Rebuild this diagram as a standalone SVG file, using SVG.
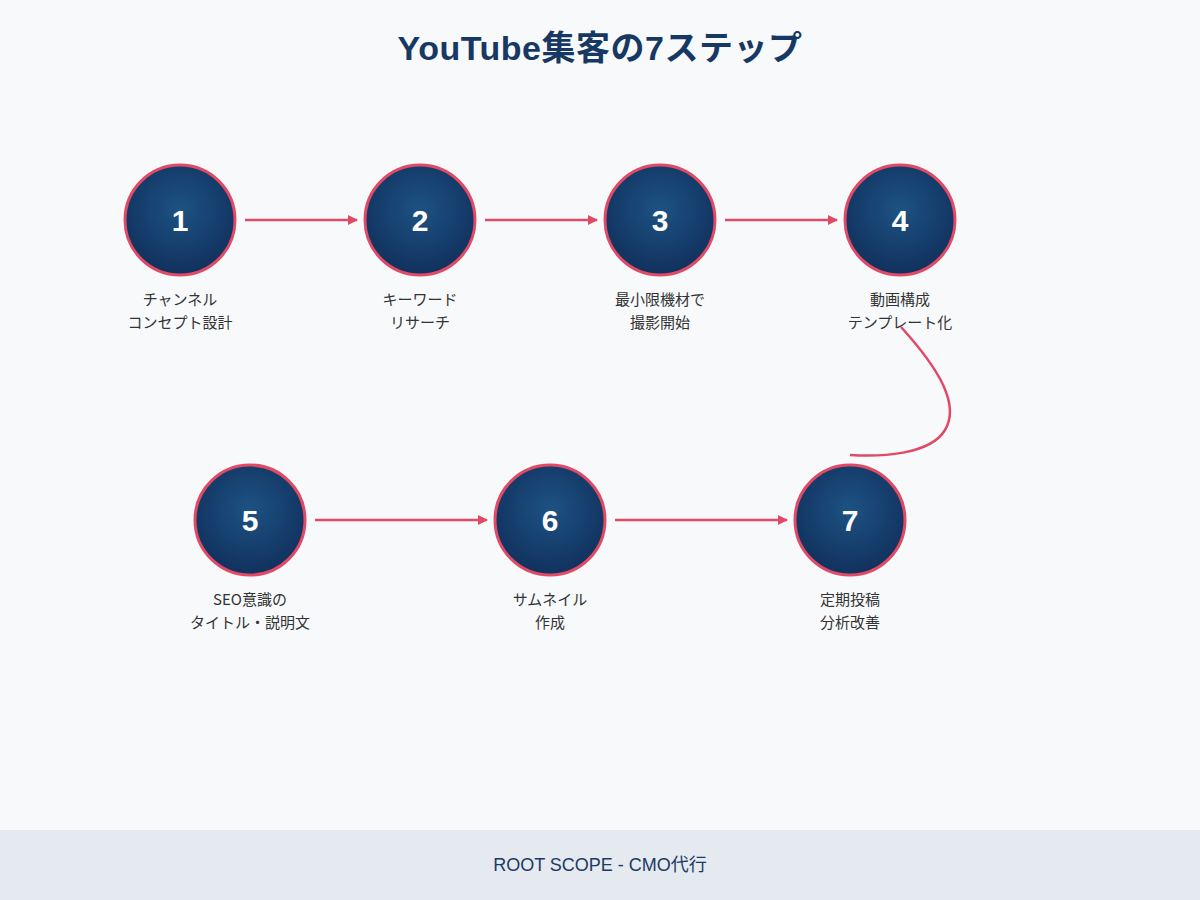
<svg xmlns="http://www.w3.org/2000/svg" width="1200" height="900" viewBox="0 0 1200 900">
<defs>
<radialGradient id="g" cx="50%" cy="40%" r="60%">
<stop offset="0%" stop-color="#1d5283"/>
<stop offset="100%" stop-color="#11315d"/>
</radialGradient>
<marker id="ah" markerWidth="10" markerHeight="10" refX="9" refY="5" orient="auto" markerUnits="userSpaceOnUse">
<path d="M0,0 L10,5 L0,10 Z" fill="#e04a66"/>
</marker>
<style>
.c{fill:url(#g);stroke:#e04a66;stroke-width:3}
.n{font-family:"Liberation Sans","Noto Sans",sans-serif;font-weight:bold;font-size:30px;fill:#fff;text-anchor:middle}
.l{font-family:"Noto Sans CJK JP","Noto Sans",sans-serif;font-size:15px;fill:#333;text-anchor:middle}
.a{stroke:#e04a66;stroke-width:2.5;fill:none}
</style>
</defs>
<rect width="1200" height="900" fill="#f7f9fb"/>
<text x="600" y="60" text-anchor="middle" font-family="Liberation Sans,'Noto Sans CJK JP',sans-serif" font-weight="bold" font-size="34" letter-spacing="0.5" fill="#173863">YouTube集客の7ステップ</text>
<g id="connectors">
<line class="a" x1="245" y1="220" x2="357" y2="220" marker-end="url(#ah)"/>
<line class="a" x1="485" y1="220" x2="597" y2="220" marker-end="url(#ah)"/>
<line class="a" x1="725" y1="220" x2="837" y2="220" marker-end="url(#ah)"/>
<path class="a" d="M901,327 C940,370 960,405 945,430 C930,455 880,457 850,455"/>
<line class="a" x1="315" y1="520" x2="487" y2="520" marker-end="url(#ah)"/>
<line class="a" x1="615" y1="520" x2="787" y2="520" marker-end="url(#ah)"/>
</g>
<g id="node1"><circle class="c" cx="180" cy="220" r="55"/><text class="n" x="180" y="231">1</text><text class="l" x="180" y="305">チャンネル</text><text class="l" x="180" y="328">コンセプト設計</text></g>
<g id="node2"><circle class="c" cx="420" cy="220" r="55"/><text class="n" x="420" y="231">2</text><text class="l" x="420" y="305">キーワード</text><text class="l" x="420" y="328">リサーチ</text></g>
<g id="node3"><circle class="c" cx="660" cy="220" r="55"/><text class="n" x="660" y="231">3</text><text class="l" x="660" y="305">最小限機材で</text><text class="l" x="660" y="328">撮影開始</text></g>
<g id="node4"><circle class="c" cx="900" cy="220" r="55"/><text class="n" x="900" y="231">4</text><text class="l" x="900" y="305">動画構成</text><text class="l" x="900" y="328">テンプレート化</text></g>
<g id="node5"><circle class="c" cx="250" cy="520" r="55"/><text class="n" x="250" y="531">5</text><text class="l" x="250" y="605">SEO意識の</text><text class="l" x="250" y="628">タイトル・説明文</text></g>
<g id="node6"><circle class="c" cx="550" cy="520" r="55"/><text class="n" x="550" y="531">6</text><text class="l" x="550" y="605">サムネイル</text><text class="l" x="550" y="628">作成</text></g>
<g id="node7"><circle class="c" cx="850" cy="520" r="55"/><text class="n" x="850" y="531">7</text><text class="l" x="850" y="605">定期投稿</text><text class="l" x="850" y="628">分析改善</text></g>
<rect x="0" y="830" width="1200" height="70" fill="#e5e9f0"/>
<text x="600" y="871" text-anchor="middle" font-family="Liberation Sans,'Noto Sans CJK JP',sans-serif" font-size="18" fill="#1c3a63">ROOT SCOPE - CMO代行</text>
</svg>
